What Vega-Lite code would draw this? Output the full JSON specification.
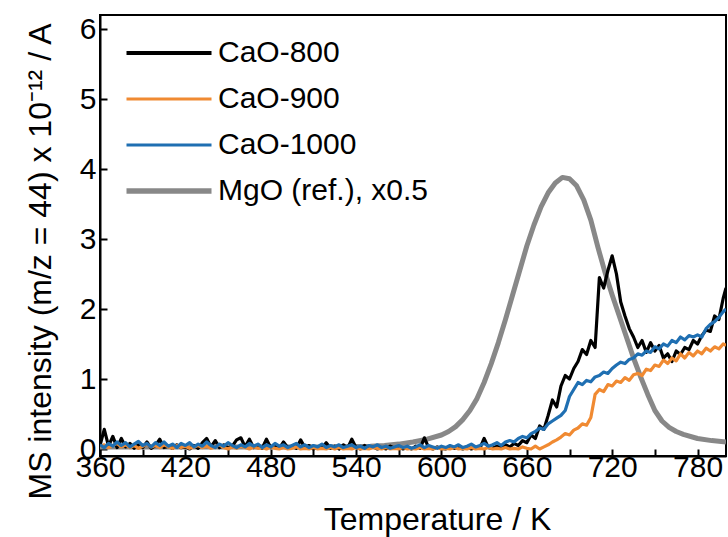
{
  "$schema": "https://vega.github.io/schema/vega-lite/v6.json",
  "width": 626,
  "height": 441,
  "autosize": {"type": "none"},
  "padding": {"left": 100, "top": 15, "right": 2, "bottom": 81},
  "background": "white",
  "config": {
    "font": "Liberation Sans",
    "view": {"stroke": "black", "strokeWidth": 2},
    "axis": {
      "grid": false,
      "domainColor": "black",
      "domainWidth": 2,
      "tickColor": "black",
      "tickWidth": 2,
      "tickSize": -7,
      "labelColor": "black",
      "labelFontSize": 30,
      "labelFont": "Liberation Sans",
      "titleColor": "black",
      "titleFont": "Liberation Sans",
      "titleFontSize": 32,
      "titleFontWeight": "normal"
    }
  },
  "encoding": {
    "x": {
      "field": "T", "type": "quantitative",
      "scale": {"domain": [360, 800], "nice": false, "zero": false},
      "axis": {
        "title": "Temperature / K",
        "values": [360,390,420,450,480,510,540,570,600,630,660,690,720,750,780],
        "format": "d",
        "labelExpr": "datum.value % 60 == 0 ? datum.label : ''",
        "labelPadding": 3,
        "labelFlush": false,
        "labelOverlap": false,
        "titlePadding": 22,
        "titleX": 337
      }
    },
    "y": {
      "field": "v", "type": "quantitative",
      "scale": {"domain": [-0.1, 6.2], "nice": false, "zero": false},
      "axis": {
        "title": "MS intensity (m/z = 44) x 10⁻¹² / A",
        "values": [0,0.5,1,1.5,2,2.5,3,3.5,4,4.5,5,5.5,6],
        "format": "d",
        "labelExpr": "datum.value % 1 == 0 ? datum.label : ''",
        "labelPadding": 11,
        "labelFlush": false,
        "labelOverlap": false,
        "titlePadding": 22,
        "titleY": 246
      }
    },
    "color": {
      "field": "s", "type": "nominal",
      "scale": {"domain": ["CaO-800", "CaO-900", "CaO-1000", "MgO"], "range": ["#000000", "#F08A32", "#1F6FB2", "#888888"]},
      "legend": {
        "title": null,
        "orient": "none",
        "legendX": 54,
        "legendY": 23,
        "symbolType": "M-8.5,0H8.5",
        "symbolSize": 100,
        "symbolStrokeWidth": {"expr": "datum.value == 'MgO' ? 5.5 : (datum.value == 'CaO-800' ? 3.8 : 3.2)"},
        "labelOffset": 34,
        "labelFontSize": 30,
        "labelFont": "Liberation Sans",
        "labelColor": "black",
        "labelLimit": 400,
        "rowPadding": 16,
        "padding": 0,
        "labelExpr": "datum.label == 'MgO' ? 'MgO (ref.), x0.5' : datum.label"
      }
    }
  },
  "layer": [
    {
      "data": {"values": [
        {"T":360,"MgO":0.03},{"T":400,"MgO":0.03},{"T":440,"MgO":0.03},{"T":480,"MgO":0.03},{"T":520,"MgO":0.03},{"T":540,"MgO":0.035},{"T":550,"MgO":0.04},{"T":560,"MgO":0.05},{"T":570,"MgO":0.07},{"T":580,"MgO":0.1},{"T":590,"MgO":0.14},{"T":600,"MgO":0.2},{"T":605,"MgO":0.25},{"T":610,"MgO":0.32},{"T":615,"MgO":0.42},{"T":620,"MgO":0.55},{"T":625,"MgO":0.72},{"T":630,"MgO":0.95},{"T":635,"MgO":1.22},{"T":640,"MgO":1.52},{"T":645,"MgO":1.85},{"T":650,"MgO":2.2},{"T":655,"MgO":2.55},{"T":660,"MgO":2.9},{"T":665,"MgO":3.2},{"T":670,"MgO":3.46},{"T":675,"MgO":3.66},{"T":680,"MgO":3.8},{"T":685,"MgO":3.88},{"T":690,"MgO":3.86},{"T":695,"MgO":3.76},{"T":700,"MgO":3.56},{"T":705,"MgO":3.27},{"T":710,"MgO":2.88},{"T":715,"MgO":2.52},{"T":720,"MgO":2.2},{"T":725,"MgO":1.9},{"T":730,"MgO":1.6},{"T":735,"MgO":1.3},{"T":740,"MgO":1.03},{"T":745,"MgO":0.78},{"T":750,"MgO":0.55},{"T":755,"MgO":0.4},{"T":760,"MgO":0.31},{"T":765,"MgO":0.25},{"T":770,"MgO":0.21},{"T":780,"MgO":0.15},{"T":790,"MgO":0.12},{"T":800,"MgO":0.1}
      ]},
      "transform": [{"fold": ["MgO"], "as": ["s", "v"]}],
      "mark": {"type": "line", "strokeJoin": "round", "strokeWidth": 5, "clip": true}
    },
    {
      "data": {"values": [
        {"T":360,"CaO-800":0.05,"CaO-900":0.03,"CaO-1000":0.06},
        {"T":363,"CaO-800":0.28,"CaO-900":0.06,"CaO-1000":0.02},
        {"T":366,"CaO-800":0.04,"CaO-900":0.02,"CaO-1000":0.08},
        {"T":369,"CaO-800":0.18,"CaO-900":0.05,"CaO-1000":0.04},
        {"T":372,"CaO-800":0.02,"CaO-900":0.08,"CaO-1000":0.1},
        {"T":375,"CaO-800":0.15,"CaO-900":0.03,"CaO-1000":0.05},
        {"T":378,"CaO-800":0.03,"CaO-900":0.06,"CaO-1000":0.09},
        {"T":381,"CaO-800":0.08,"CaO-900":0.02,"CaO-1000":0.03},
        {"T":384,"CaO-800":0.01,"CaO-900":0.05,"CaO-1000":0.07},
        {"T":387,"CaO-800":0.06,"CaO-900":0.01,"CaO-1000":0.11},
        {"T":390,"CaO-800":0.02,"CaO-900":0.04,"CaO-1000":0.05},
        {"T":393,"CaO-800":0.1,"CaO-900":0.07,"CaO-1000":0.08},
        {"T":396,"CaO-800":0.01,"CaO-900":0.03,"CaO-1000":0.03},
        {"T":399,"CaO-800":0.05,"CaO-900":0.05,"CaO-1000":0.09},
        {"T":402,"CaO-800":0.14,"CaO-900":0.02,"CaO-1000":0.05},
        {"T":405,"CaO-800":0.02,"CaO-900":0.06,"CaO-1000":0.1},
        {"T":408,"CaO-800":0.04,"CaO-900":0.03,"CaO-1000":0.04},
        {"T":411,"CaO-800":0.01,"CaO-900":0.01,"CaO-1000":0.07},
        {"T":414,"CaO-800":0.06,"CaO-900":0.05,"CaO-1000":0.02},
        {"T":417,"CaO-800":0.02,"CaO-900":0.02,"CaO-1000":0.08},
        {"T":420,"CaO-800":0.03,"CaO-900":0.04,"CaO-1000":0.05},
        {"T":423,"CaO-800":0.0,"CaO-900":0.01,"CaO-1000":0.09},
        {"T":426,"CaO-800":0.05,"CaO-900":0.03,"CaO-1000":0.03},
        {"T":429,"CaO-800":0.01,"CaO-900":0.05,"CaO-1000":0.07},
        {"T":432,"CaO-800":0.09,"CaO-900":0.02,"CaO-1000":0.04},
        {"T":435,"CaO-800":0.15,"CaO-900":0.04,"CaO-1000":0.1},
        {"T":438,"CaO-800":0.03,"CaO-900":0.01,"CaO-1000":0.05},
        {"T":441,"CaO-800":0.12,"CaO-900":0.03,"CaO-1000":0.02},
        {"T":444,"CaO-800":0.02,"CaO-900":0.06,"CaO-1000":0.07},
        {"T":447,"CaO-800":0.06,"CaO-900":0.02,"CaO-1000":0.04},
        {"T":450,"CaO-800":0.01,"CaO-900":0.0,"CaO-1000":0.09},
        {"T":453,"CaO-800":0.04,"CaO-900":0.03,"CaO-1000":0.05},
        {"T":456,"CaO-800":0.13,"CaO-900":0.01,"CaO-1000":0.02},
        {"T":459,"CaO-800":0.16,"CaO-900":0.04,"CaO-1000":0.06},
        {"T":462,"CaO-800":0.03,"CaO-900":0.02,"CaO-1000":0.03},
        {"T":465,"CaO-800":0.14,"CaO-900":0.0,"CaO-1000":0.08},
        {"T":468,"CaO-800":0.02,"CaO-900":0.03,"CaO-1000":0.04},
        {"T":471,"CaO-800":0.05,"CaO-900":0.01,"CaO-1000":0.07},
        {"T":474,"CaO-800":0.01,"CaO-900":0.02,"CaO-1000":0.02},
        {"T":477,"CaO-800":0.14,"CaO-900":0.0,"CaO-1000":0.06},
        {"T":480,"CaO-800":0.02,"CaO-900":0.03,"CaO-1000":0.03},
        {"T":483,"CaO-800":0.05,"CaO-900":0.01,"CaO-1000":0.08},
        {"T":486,"CaO-800":0.01,"CaO-900":0.0,"CaO-1000":0.04},
        {"T":489,"CaO-800":0.1,"CaO-900":0.02,"CaO-1000":0.06},
        {"T":492,"CaO-800":0.02,"CaO-900":0.0,"CaO-1000":0.02},
        {"T":495,"CaO-800":0.04,"CaO-900":0.01,"CaO-1000":0.05},
        {"T":498,"CaO-800":0.01,"CaO-900":0.03,"CaO-1000":0.08},
        {"T":501,"CaO-800":0.13,"CaO-900":0.0,"CaO-1000":0.03},
        {"T":504,"CaO-800":0.02,"CaO-900":0.01,"CaO-1000":0.06},
        {"T":507,"CaO-800":0.05,"CaO-900":0.0,"CaO-1000":0.02},
        {"T":510,"CaO-800":0.0,"CaO-900":0.02,"CaO-1000":0.05},
        {"T":513,"CaO-800":0.03,"CaO-900":0.0,"CaO-1000":0.03},
        {"T":516,"CaO-800":0.01,"CaO-900":0.01,"CaO-1000":0.07},
        {"T":519,"CaO-800":0.09,"CaO-900":0.0,"CaO-1000":0.02},
        {"T":522,"CaO-800":0.01,"CaO-900":0.02,"CaO-1000":0.05},
        {"T":525,"CaO-800":0.04,"CaO-900":0.0,"CaO-1000":0.03},
        {"T":528,"CaO-800":0.0,"CaO-900":0.02,"CaO-1000":0.06},
        {"T":531,"CaO-800":0.06,"CaO-900":0.0,"CaO-1000":0.02},
        {"T":534,"CaO-800":0.01,"CaO-900":0.01,"CaO-1000":0.04},
        {"T":537,"CaO-800":0.14,"CaO-900":0.0,"CaO-1000":0.06},
        {"T":540,"CaO-800":0.02,"CaO-900":0.02,"CaO-1000":0.02},
        {"T":543,"CaO-800":0.0,"CaO-900":0.0,"CaO-1000":0.04},
        {"T":546,"CaO-800":0.05,"CaO-900":0.01,"CaO-1000":0.01},
        {"T":549,"CaO-800":0.01,"CaO-900":0.0,"CaO-1000":0.05},
        {"T":552,"CaO-800":0.03,"CaO-900":0.02,"CaO-1000":0.03},
        {"T":555,"CaO-800":0.0,"CaO-900":0.01,"CaO-1000":0.06},
        {"T":558,"CaO-800":0.02,"CaO-900":0.0,"CaO-1000":0.02},
        {"T":561,"CaO-800":0.0,"CaO-900":0.02,"CaO-1000":0.04},
        {"T":564,"CaO-800":0.04,"CaO-900":0.0,"CaO-1000":0.01},
        {"T":567,"CaO-800":0.01,"CaO-900":0.01,"CaO-1000":0.03},
        {"T":570,"CaO-800":0.03,"CaO-900":0.0,"CaO-1000":0.05},
        {"T":573,"CaO-800":0.0,"CaO-900":0.02,"CaO-1000":0.02},
        {"T":576,"CaO-800":0.02,"CaO-900":0.0,"CaO-1000":0.04},
        {"T":579,"CaO-800":0.0,"CaO-900":0.01,"CaO-1000":0.01},
        {"T":582,"CaO-800":0.04,"CaO-900":0.0,"CaO-1000":0.03},
        {"T":585,"CaO-800":0.01,"CaO-900":0.02,"CaO-1000":0.06},
        {"T":588,"CaO-800":0.16,"CaO-900":0.0,"CaO-1000":0.02},
        {"T":591,"CaO-800":0.02,"CaO-900":0.01,"CaO-1000":0.05},
        {"T":594,"CaO-800":0.0,"CaO-900":0.0,"CaO-1000":0.03},
        {"T":597,"CaO-800":0.03,"CaO-900":0.02,"CaO-1000":0.01},
        {"T":600,"CaO-800":0.01,"CaO-900":0.0,"CaO-1000":0.04},
        {"T":603,"CaO-800":0.0,"CaO-900":0.01,"CaO-1000":0.02},
        {"T":606,"CaO-800":0.04,"CaO-900":0.0,"CaO-1000":0.05},
        {"T":609,"CaO-800":0.01,"CaO-900":0.02,"CaO-1000":0.03},
        {"T":612,"CaO-800":0.02,"CaO-900":0.0,"CaO-1000":0.06},
        {"T":615,"CaO-800":0.0,"CaO-900":0.01,"CaO-1000":0.02},
        {"T":618,"CaO-800":0.03,"CaO-900":0.0,"CaO-1000":0.04},
        {"T":621,"CaO-800":0.0,"CaO-900":0.02,"CaO-1000":0.07},
        {"T":624,"CaO-800":0.02,"CaO-900":0.0,"CaO-1000":0.03},
        {"T":627,"CaO-800":0.01,"CaO-900":0.01,"CaO-1000":0.05},
        {"T":630,"CaO-800":0.15,"CaO-900":0.0,"CaO-1000":0.08},
        {"T":633,"CaO-800":0.02,"CaO-900":0.02,"CaO-1000":0.04},
        {"T":636,"CaO-800":0.01,"CaO-900":0.0,"CaO-1000":0.06},
        {"T":639,"CaO-800":0.04,"CaO-900":0.01,"CaO-1000":0.09},
        {"T":642,"CaO-800":0.02,"CaO-900":0.0,"CaO-1000":0.05},
        {"T":645,"CaO-800":0.06,"CaO-900":0.02,"CaO-1000":0.1},
        {"T":648,"CaO-800":0.03,"CaO-900":0.0,"CaO-1000":0.12},
        {"T":651,"CaO-800":0.08,"CaO-900":0.01,"CaO-1000":0.1},
        {"T":654,"CaO-800":0.05,"CaO-900":0.0,"CaO-1000":0.15},
        {"T":657,"CaO-800":0.12,"CaO-900":0.03,"CaO-1000":0.18},
        {"T":660,"CaO-800":0.09,"CaO-900":0.01,"CaO-1000":0.16},
        {"T":663,"CaO-800":0.2,"CaO-900":0.0,"CaO-1000":0.22},
        {"T":666,"CaO-800":0.15,"CaO-900":0.04,"CaO-1000":0.25},
        {"T":669,"CaO-800":0.33,"CaO-900":0.0,"CaO-1000":0.3},
        {"T":672,"CaO-800":0.28,"CaO-900":0.03,"CaO-1000":0.28},
        {"T":675,"CaO-800":0.48,"CaO-900":0.06,"CaO-1000":0.36},
        {"T":678,"CaO-800":0.7,"CaO-900":0.1,"CaO-1000":0.4},
        {"T":681,"CaO-800":0.6,"CaO-900":0.13,"CaO-1000":0.44},
        {"T":684,"CaO-800":0.9,"CaO-900":0.17,"CaO-1000":0.48},
        {"T":687,"CaO-800":1.05,"CaO-900":0.22,"CaO-1000":0.55},
        {"T":690,"CaO-800":1.0,"CaO-900":0.2,"CaO-1000":0.75},
        {"T":693,"CaO-800":1.15,"CaO-900":0.27,"CaO-1000":0.85},
        {"T":696,"CaO-800":1.25,"CaO-900":0.3,"CaO-1000":0.95},
        {"T":699,"CaO-800":1.42,"CaO-900":0.36,"CaO-1000":0.92},
        {"T":702,"CaO-800":1.35,"CaO-900":0.34,"CaO-1000":0.98},
        {"T":705,"CaO-800":1.55,"CaO-900":0.45,"CaO-1000":0.96},
        {"T":708,"CaO-800":1.45,"CaO-900":0.78,"CaO-1000":1.03},
        {"T":711,"CaO-800":2.45,"CaO-900":0.85,"CaO-1000":1.05},
        {"T":714,"CaO-800":2.3,"CaO-900":0.82,"CaO-1000":1.1},
        {"T":717,"CaO-800":2.55,"CaO-900":0.92,"CaO-1000":1.08},
        {"T":720,"CaO-800":2.76,"CaO-900":0.9,"CaO-1000":1.15},
        {"T":723,"CaO-800":2.5,"CaO-900":0.97,"CaO-1000":1.2},
        {"T":726,"CaO-800":2.1,"CaO-900":0.95,"CaO-1000":1.24},
        {"T":729,"CaO-800":1.9,"CaO-900":1.02,"CaO-1000":1.22},
        {"T":732,"CaO-800":1.72,"CaO-900":0.98,"CaO-1000":1.28},
        {"T":735,"CaO-800":1.6,"CaO-900":1.06,"CaO-1000":1.3},
        {"T":738,"CaO-800":1.45,"CaO-900":1.08,"CaO-1000":1.36},
        {"T":741,"CaO-800":1.55,"CaO-900":1.05,"CaO-1000":1.34},
        {"T":744,"CaO-800":1.38,"CaO-900":1.14,"CaO-1000":1.4},
        {"T":747,"CaO-800":1.52,"CaO-900":1.12,"CaO-1000":1.38},
        {"T":750,"CaO-800":1.4,"CaO-900":1.2,"CaO-1000":1.46},
        {"T":753,"CaO-800":1.48,"CaO-900":1.18,"CaO-1000":1.43},
        {"T":756,"CaO-800":1.3,"CaO-900":1.27,"CaO-1000":1.5},
        {"T":759,"CaO-800":1.36,"CaO-900":1.22,"CaO-1000":1.47},
        {"T":762,"CaO-800":1.25,"CaO-900":1.3,"CaO-1000":1.55},
        {"T":765,"CaO-800":1.4,"CaO-900":1.26,"CaO-1000":1.52},
        {"T":768,"CaO-800":1.35,"CaO-900":1.36,"CaO-1000":1.6},
        {"T":771,"CaO-800":1.45,"CaO-900":1.3,"CaO-1000":1.56},
        {"T":774,"CaO-800":1.42,"CaO-900":1.38,"CaO-1000":1.62},
        {"T":777,"CaO-800":1.55,"CaO-900":1.33,"CaO-1000":1.6},
        {"T":780,"CaO-800":1.5,"CaO-900":1.4,"CaO-1000":1.63},
        {"T":783,"CaO-800":1.62,"CaO-900":1.36,"CaO-1000":1.6},
        {"T":786,"CaO-800":1.7,"CaO-900":1.44,"CaO-1000":1.72},
        {"T":789,"CaO-800":1.68,"CaO-900":1.4,"CaO-1000":1.78},
        {"T":792,"CaO-800":1.9,"CaO-900":1.46,"CaO-1000":1.82},
        {"T":795,"CaO-800":1.85,"CaO-900":1.43,"CaO-1000":1.88},
        {"T":798,"CaO-800":2.15,"CaO-900":1.5,"CaO-1000":1.96},
        {"T":800,"CaO-800":2.3,"CaO-900":1.48,"CaO-1000":2.0}
      ]},
      "transform": [{"fold": ["CaO-800", "CaO-900", "CaO-1000"], "as": ["s", "v"]}],
      "mark": {"type": "line", "strokeJoin": "round", "strokeWidth": 3.2, "clip": true}
    }
  ]
}
